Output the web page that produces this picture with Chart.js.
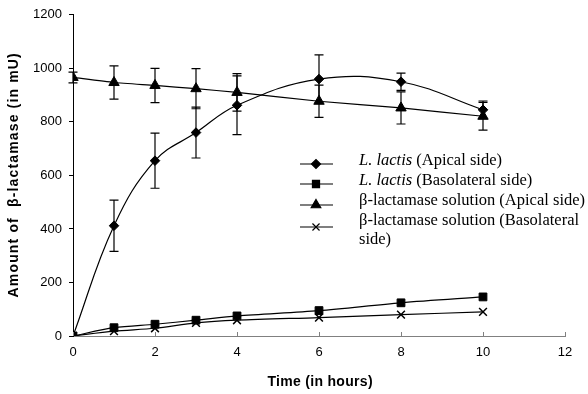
<!DOCTYPE html>
<html>
<head>
<meta charset="utf-8">
<script src="https://cdn.jsdelivr.net/npm/chart.js@4.4.1/dist/chart.umd.min.js"></script>
<style>
html,body{margin:0;padding:0;background:#fff;}
#wrap{width:588px;height:394px;position:relative;}
</style>
</head>
<body>
<div id="wrap"><canvas id="c" width="588" height="394"></canvas></div>
<script>
// ---- data ----
const times = [0, 1, 2, 3, 4, 6, 8, 10];
const xTicks = [0, 2, 4, 6, 8, 10, 12];
const yTicks = [0, 200, 400, 600, 800, 1000, 1200];

const lactisApical      = [0, 412, 655, 760, 862, 960, 950, 845];
const lactisApicalErr   = [0, 96, 103, 95, 110, 90, 32, 33];
const lactisBaso        = [0, 31, 44, 59, 75, 95, 124, 146];
const solutionApical    = [966, 947, 936, 924, 910, 877, 852, 821];
const solutionApicalErr = [20, 62, 64, 75, 70, 60, 60, 52];
const solutionBaso      = [0, 18, 29, 49, 59, 69, 80, 90];

const xTitle = 'Time (in hours)';
const yTitle = 'Amount of  β-lactamase (in mU)';

const legendItems = [
  {italic: 'L. lactis', rest: ' (Apical side)', style: 'rectRot', r: 4.5},
  {italic: 'L. lactis', rest: ' (Basolateral side)', style: 'rect', r: 5},
  {italic: '', rest: 'β-lactamase solution (Apical side)', style: 'triangle', r: 5.5},
  {italic: '', rest: 'β-lactamase solution (Basolateral', rest2: 'side)', style: 'crossRot', r: 5}
];

const pts = arr => times.map((t, i) => ({x: t, y: arr[i]}));

function ds(label, arr, style, radius, err, tension) {
  return {
    label: label,
    data: pts(arr),
    err: err,
    borderColor: '#000',
    backgroundColor: '#000',
    borderWidth: 1.2,
    pointStyle: style,
    pointRadius: radius,
    pointBorderWidth: style === 'crossRot' ? 1.5 : 1,
    pointBackgroundColor: '#000',
    pointBorderColor: '#000',
    tension: tension,
    fill: false
  };
}

const errorBars = {
  id: 'errorBars',
  afterDatasetsDraw(chart) {
    const ctx = chart.ctx, xs = chart.scales.x, ys = chart.scales.y;
    ctx.save();
    ctx.strokeStyle = '#000';
    ctx.lineWidth = 1.2;
    chart.data.datasets.forEach(d => {
      if (!d.err) return;
      d.data.forEach((p, i) => {
        const e = d.err[i];
        if (!e) return;
        const x = xs.getPixelForValue(p.x);
        const y1 = ys.getPixelForValue(p.y + e);
        const y2 = ys.getPixelForValue(p.y - e);
        ctx.beginPath();
        ctx.moveTo(x, y1); ctx.lineTo(x, y2);
        ctx.moveTo(x - 4.5, y1); ctx.lineTo(x + 4.5, y1);
        ctx.moveTo(x - 4.5, y2); ctx.lineTo(x + 4.5, y2);
        ctx.stroke();
      });
    });
    ctx.restore();
  }
};

const xTickMarks = {
  id: 'xTickMarks',
  afterDraw(chart) {
    const ctx = chart.ctx, xs = chart.scales.x;
    const b = chart.chartArea.bottom;
    ctx.save();
    ctx.strokeStyle = '#808080';
    ctx.lineWidth = 1;
    xTicks.forEach(v => {
      const x = Math.round(xs.getPixelForValue(v)) + 0.5;
      ctx.beginPath(); ctx.moveTo(x, b); ctx.lineTo(x, b - 4); ctx.stroke();
    });
    ctx.restore();
  }
};

function spacedText(ctx, text, cx, cy, targetW) {
  ctx.letterSpacing = '0px';
  const w = ctx.measureText(text).width;
  const sp = Math.max(0, (targetW - w) / (text.length - 1));
  ctx.letterSpacing = sp.toFixed(2) + 'px';
  ctx.textAlign = 'left';
  ctx.textBaseline = 'middle';
  ctx.fillText(text, cx - targetW / 2, cy);
  ctx.letterSpacing = '0px';
}

const axisTitles = {
  id: 'axisTitles',
  afterDraw(chart) {
    const ctx = chart.ctx;
    const area = chart.chartArea;
    ctx.save();
    ctx.fillStyle = '#000';
    ctx.font = 'bold 14px Arial, "Liberation Sans", sans-serif';
    spacedText(ctx, xTitle, 320, 382, 105);
    ctx.translate(14, (area.top + area.bottom) / 2);
    ctx.rotate(-Math.PI / 2);
    spacedText(ctx, yTitle, 0, 0, 244);
    ctx.restore();
  }
};

const customLegend = {
  id: 'customLegend',
  afterDraw(chart) {
    const ctx = chart.ctx;
    const x0 = 300, x1 = 333, mx = 316, tx = 359;
    const rowY = [164, 184, 205, 227];
    const textY = [161, 181, 201, 221];
    ctx.save();
    ctx.strokeStyle = '#000';
    ctx.fillStyle = '#000';
    legendItems.forEach((it, i) => {
      const y = rowY[i];
      ctx.lineWidth = 1.2;
      ctx.beginPath(); ctx.moveTo(x0, y); ctx.lineTo(x1, y); ctx.stroke();
      Chart.helpers.drawPoint(ctx, {pointStyle: it.style, radius: it.r, borderWidth: it.style === 'crossRot' ? 1.5 : 1, rotation: 0}, mx, y);
      ctx.fillStyle = '#000';
      ctx.textBaseline = 'middle';
      ctx.textAlign = 'left';
      let x = tx;
      if (it.italic) {
        ctx.font = 'italic 16.5px "Liberation Serif", "Times New Roman", serif';
        ctx.fillText(it.italic, x, textY[i]);
        x += ctx.measureText(it.italic).width;
      }
      ctx.font = '16.5px "Liberation Serif", "Times New Roman", serif';
      ctx.fillText(it.rest, x, textY[i]);
      if (it.rest2) ctx.fillText(it.rest2, tx, textY[i] + 19);
    });
    ctx.restore();
  }
};

new Chart(document.getElementById('c'), {
  type: 'line',
  data: {
    datasets: [
      ds('L. lactis (Apical side)', lactisApical, 'rectRot', 4.8, lactisApicalErr, 0.4),
      ds('L. lactis (Basolateral side)', lactisBaso, 'rect', 5.5, null, 0.3),
      ds('β-lactamase solution (Apical side)', solutionApical, 'triangle', 6, solutionApicalErr, 0.2),
      ds('β-lactamase solution (Basolateral side)', solutionBaso, 'crossRot', 5.5, null, 0.3)
    ]
  },
  options: {
    responsive: false,
    animation: false,
    devicePixelRatio: 1,
    layout: {padding: {top: 13, right: 23, left: 0, bottom: 0}},
    plugins: {legend: {display: false}, tooltip: {enabled: false}},
    scales: {
      x: {
        type: 'linear', min: 0, max: 12,
        afterBuildTicks: s => { s.ticks = xTicks.map(v => ({value: v})); },
        afterFit: s => { s.height = 58; },
        ticks: {color: '#000', font: {family: 'Arial, "Liberation Sans", sans-serif', size: 13}, padding: 9, maxRotation: 0,
          callback: v => String(v)},
        grid: {display: true, drawOnChartArea: false, drawTicks: false},
        border: {display: true, color: '#808080', width: 1},
        title: {display: false}
      },
      y: {
        type: 'linear', min: 0, max: 1200,
        afterBuildTicks: s => { s.ticks = yTicks.map(v => ({value: v})); },
        afterFit: s => { s.width = 73; },
        ticks: {color: '#000', font: {family: 'Arial, "Liberation Sans", sans-serif', size: 13}, padding: 7,
          callback: v => String(v)},
        grid: {display: true, drawOnChartArea: false, drawTicks: true, tickLength: 4, color: '#000'},
        border: {display: true, color: '#000', width: 1},
        title: {display: false}
      }
    }
  },
  plugins: [errorBars, xTickMarks, axisTitles, customLegend]
});
</script>
</body>
</html>
